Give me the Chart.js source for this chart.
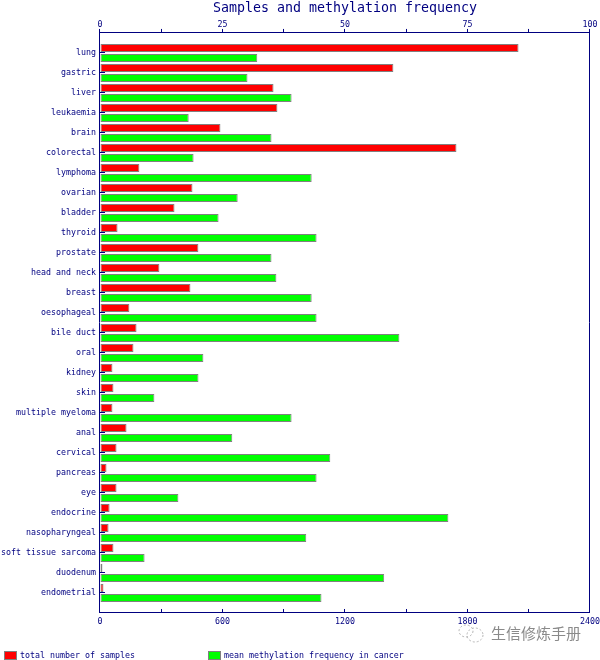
<!DOCTYPE html>
<html>
<head>
<meta charset="utf-8">
<style>
html,body{margin:0;padding:0;background:#fff}
#wrap{position:absolute;left:0;top:0;width:600px;height:660px}
</style>
<script src="https://cdn.jsdelivr.net/npm/chart.js@4"></script>
</head>
<body>
<div id="wrap"><canvas id="c" width="600" height="660"></canvas></div>
<script>
const categories = ["lung","gastric","liver","leukaemia","brain","colorectal","lymphoma","ovarian","bladder","thyroid","prostate","head and neck","breast","oesophageal","bile duct","oral","kidney","skin","multiple myeloma","anal","cervical","pancreas","eye","endocrine","nasopharyngeal","soft tissue sarcoma","duodenum","endometrial"];
const totalSamples = [2050,1437,850,869,590,1746,193,453,365,86,482,291,443,144,179,164,61,66,61,130,81,32,81,47,42,66,12,17];
const meanMethylation = [32.1,30.1,39.1,18.1,35,19.1,43.2,28.1,24.2,44.2,35,36,43.2,44.2,61.1,21.1,20.1,11.1,39.1,27,47,44.2,16,71.1,42.1,9.1,58,45.2];
const samplesTicks = [0,600,1200,1800,2400];
const freqTicks = [0,25,50,75,100];
const titleText = "Samples and methylation frequency";
const watermark = "生信修炼手册";

const NAVY = "#000080";
const MONO = "'DejaVu Sans Mono'";
const labels = ["", ...categories, ""];
const pad = a => [null, ...a, null];
const noPad = s => { s.paddingLeft = 0; s.paddingRight = 0; s.paddingTop = 0; s.paddingBottom = 0; };
const fixW = w => s => { s.width = w; noPad(s); };
const fixH = h => s => { s.height = h; noPad(s); };

const overlay = {
  id: "overlay",
  afterDraw(chart) {
    const ctx = chart.ctx;
    ctx.save();
    const items = [[4.5, 20], [208.5, 224]];
    chart.data.datasets.forEach((d, i) => {
      ctx.fillStyle = d.backgroundColor;
      ctx.strokeStyle = d.borderColor;
      ctx.lineWidth = 1;
      ctx.fillRect(items[i][0], 651.5, 12, 8);
      ctx.strokeRect(items[i][0], 651.5, 12, 8);
      ctx.fillStyle = NAVY;
      ctx.font = "8.3px " + MONO;
      ctx.textAlign = "left";
      ctx.textBaseline = "middle";
      ctx.fillText(d.label, items[i][1], 655.5);
    });
    ctx.fillStyle = "#8a8a8a";
    ctx.font = "15px 'Noto Sans CJK SC'";
    ctx.textBaseline = "middle";
    ctx.fillText(watermark, 491, 633);
    ctx.strokeStyle = "#b5b5b5";
    ctx.lineWidth = 1;
    ctx.setLineDash([2, 2]);
    ctx.beginPath();
    ctx.ellipse(466, 631, 7, 6, 0, 0, Math.PI * 2);
    ctx.stroke();
    ctx.beginPath();
    ctx.ellipse(475, 635, 8, 7, 0, 0, Math.PI * 2);
    ctx.stroke();
    ctx.restore();
  }
};

new Chart(document.getElementById("c"), {
  type: "bar",
  plugins: [overlay],
  data: {
    labels,
    datasets: [
      { label: "total number of samples", data: pad(totalSamples), xAxisID: "x", yAxisID: "y",
        backgroundColor: "#ff0000", borderColor: "#808080", borderWidth: 1, borderSkipped: false },
      { label: "mean methylation frequency in cancer", data: pad(meanMethylation), xAxisID: "x2", yAxisID: "y",
        backgroundColor: "#00ff00", borderColor: "#808080", borderWidth: 1, borderSkipped: false }
    ]
  },
  options: {
    indexAxis: "y",
    responsive: false,
    animation: false,
    devicePixelRatio: 1,
    categoryPercentage: 1,
    barPercentage: 0.8,
    layout: { padding: { left: 0, right: 10.01, top: 0, bottom: 0 } },
    plugins: {
      legend: { display: false },
      tooltip: { enabled: false },
      title: { display: true, text: titleText, fullSize: false, color: NAVY,
        font: { family: MONO, size: 13.3, weight: "normal", lineHeight: 1.2 }, padding: { top: 1, bottom: 0 } }
    },
    scales: {
      y: {
        type: "category", position: "left", offset: false, afterFit: fixW(99.99),
        border: { color: NAVY, width: 1 },
        grid: { offset: false, drawOnChartArea: false, tickLength: -5,
          tickColor: c => (c.index === 0 || c.index === labels.length - 1) ? "transparent" : NAVY },
        ticks: { autoSkip: false, maxRotation: 0, minRotation: 0, color: NAVY, padding: 9,
          font: { family: MONO, size: 8.3 } }
      },
      y2: {
        type: "linear", position: "right", afterFit: fixW(0),
        border: { color: NAVY, width: 1 }, grid: { display: false },
        ticks: { display: false }
      },
      x: {
        type: "linear", position: "bottom", min: 0, max: 2400, afterFit: fixH(47.01),
        border: { color: NAVY, width: 1 },
        grid: { drawOnChartArea: false, tickLength: -4, tickColor: NAVY },
        ticks: { stepSize: 300, autoSkip: false, maxRotation: 0, minRotation: 0, color: NAVY, padding: 8,
          font: { family: MONO, size: 8.3 },
          callback: v => samplesTicks.includes(v) ? String(v) : "" }
      },
      x2: {
        type: "linear", position: "top", min: 0, max: 100, afterFit: fixH(15.99),
        border: { color: NAVY, width: 1 },
        grid: { drawOnChartArea: false, tickLength: 4, tickColor: NAVY },
        ticks: { stepSize: 12.5, autoSkip: false, maxRotation: 0, minRotation: 0, color: NAVY, padding: -1,
          font: { family: MONO, size: 8.3 },
          callback: v => freqTicks.includes(v) ? String(v) : "" }
      }
    }
  }
});
</script>
</body>
</html>
